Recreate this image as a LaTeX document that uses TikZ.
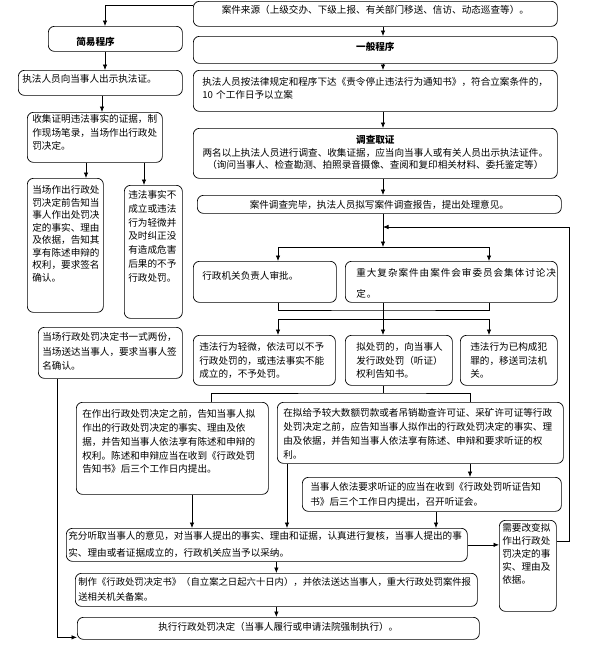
\documentclass[tikz,border=0pt]{standalone}
\usepackage{fontspec}
\setmainfont{Noto Sans CJK SC}
\usepackage{tikz}
\usetikzlibrary{arrows.meta}

\begin{document}
\begin{tikzpicture}[x=1pt,y=-1pt,
	box/.style={draw,line width=0.7pt,rounded corners=6pt,anchor=north west,inner ysep=0pt,inner xsep=4pt,align=left,font=\fontsize{9.6pt}{#1}\selectfont},
	box/.default=13.6pt,
	title/.style={box,align=center,font=\fontsize{9.6pt}{13pt}\selectfont\bfseries},
	link/.style={line width=0.7pt},
	arr/.style={line width=0.7pt,-{Latex[length=5.5pt,width=4.5pt]}}]
\useasboundingbox (0,0) rectangle (594,648);
	% lanes of the connectors
	\coordinate (lane0) at (57,0);
	\coordinate (lane1) at (105,0);
	\coordinate (lane2) at (102,0);
	\coordinate (lane3) at (86,0);
	\coordinate (lane4) at (144,0);
	\coordinate (spine) at (383,0);
	\coordinate (colA) at (278,0);
	\coordinate (colC) at (489,0);
	\coordinate (lane5) at (211,0);
	\coordinate (lane6) at (470,0);
	\coordinate (lane7) at (192,0);
	\coordinate (lane8) at (287,0);
	\coordinate (lane9) at (436,0);
	\coordinate (fork1) at (383,247);
	\coordinate (join1) at (383,310);
	\coordinate (fork2) at (383,319);
	\coordinate (fork3) at (383,393);
	\coordinate (loop) at (569,227);
	% top
	\node[box,align=center,text width=356pt,text height=12.5pt,text depth=12.5pt] (src) at (193,1) {案件来源（上级交办、下级上报、有关部门移送、信访、动态巡查等）。};
	% simple procedure
	\node[title,align=left,inner xsep=28pt,text width=78pt,text height=19pt,text depth=6pt] (simple) at (48,26) {简易程序};
	\node[box,text width=156pt,text height=12.5pt,text depth=12.5pt] (showid) at (18,70) {执法人员向当事人出示执法证。};
	\node[box=13.5pt,inner xsep=5pt,text width=125pt,text height=10.5pt,text depth=39.5pt] (collect) at (27,112) {收集证明违法事实的证据，制\\作现场笔录，当场作出行政处\\罚决定。};
	\node[box=12.5pt,inner xsep=5pt,text width=66pt,text height=15.5pt,text depth=118.5pt] (inform) at (27,178) {当场作出行政处\\罚决定前告知当\\事人作出处罚决\\定的事实、理由\\及依据，告知其\\享有陈述申辩的\\权利，要求签名\\确认。};
	\node[box=13.7pt,text width=50pt,text height=13.5pt,text depth=119.5pt] (noact) at (124,185) {违法事实不\\成立或违法\\行为轻微并\\及时纠正没\\有造成危害\\后果的不予\\行政处罚。};
	\node[box=14.5pt,text width=136pt,text height=13.5pt,text depth=37.5pt] (onsite) at (38,327) {当场行政处罚决定书一式两份，\\当场送达当事人，要求当事人签\\名确认。};
	% general procedure
	\node[title,text width=356pt,text height=14.5pt,text depth=12.5pt] (general) at (193,36) {一般程序};
	\node[box=13pt,inner xsep=9pt,text width=346pt,text height=15.5pt,text depth=25.5pt] (notice) at (193,70) {执法人员按法律规定和程序下达《责令停止违法行为通知书》，符合立案条件的，\\10 个工作日予以立案};
	\node[box=12.5pt,align=center,text width=356pt,text height=15.5pt,text depth=34.5pt] (survey) at (193,128) {{\bfseries 调查取证}\\两名以上执法人员进行调查、收集证据，应当向当事人或有关人员出示执法证件。\\（询问当事人、检查勘测、拍照录音摄像、查阅和复印相关材料、委托鉴定等）};
	\node[box,align=center,text width=356pt,text height=13pt,text depth=5pt] (finish) at (197,195) {案件调查完毕，执法人员拟写案件调查报告，提出处理意见。};
	\node[box,inner xsep=9pt,text width=125pt,text height=18.5pt,text depth=22.5pt] (approve) at (193,261) {行政机关负责人审批。};
	\node[box,inner xsep=11pt,text width=190pt,text height=15.5pt,text depth=25.5pt,font=\fontsize{9.6pt}{21pt}\selectfont\addfontfeatures{LetterSpace=10}] (major) at (345,261) {重大复杂案件由案件会审委员会集体讨论决\\定。};
	\node[box=13.5pt,inner xsep=6pt,text width=130pt,text height=15.5pt,text depth=34.5pt] (minor) at (193,335) {违法行为轻微，依法可以不予\\行政处罚的，或违法事实不能\\成立的，不予处罚。};
	\node[box=13.5pt,inner xsep=11pt,text width=85pt,text height=15.5pt,text depth=34.5pt] (punish) at (345,335) {拟处罚的，向当事人\\发行政处罚（听证）\\权利告知书。};
	\node[box=13.5pt,inner xsep=10pt,text width=77pt,text height=15.5pt,text depth=34.5pt] (crime) at (460,335) {违法行为已构成犯\\罪的，移送司法机\\关。};
	\node[box=13.75pt,inner xsep=6pt,text width=180pt,text height=15.5pt,text depth=76.5pt] (state) at (76,402) {在作出行政处罚决定之前，告知当事人拟\\作出的行政处罚决定的事实、理由及依\\据，并告知当事人依法享有陈述和申辩的\\权利。陈述和申辩应当在收到《行政处罚\\告知书》后三个工作日内提出。};
	\node[box=14pt,inner xsep=6pt,text width=274pt,text height=14.5pt,text depth=46.5pt] (hearing) at (277,402) {在拟给予较大数额罚款或者吊销勘查许可证、采矿许可证等行政\\处罚决定之前，应告知当事人拟作出的行政处罚决定的事实、理\\由及依据，并告知当事人依法享有陈述、申辩和要求听证的权\\利。};
	\node[box=15pt,inner xsep=8pt,text width=243pt,text height=13.5pt,text depth=20.5pt] (request) at (302,477) {当事人依法要求听证的应当在收到《行政处罚听证告知\\书》后三个工作日内提出，召开听证会。};
	\node[box=16.5pt,inner xsep=2pt,text width=397pt,text height=11.5pt,text depth=21.5pt] (review) at (66,528) {充分听取当事人的意见，对当事人提出的事实、理由和证据，认真进行复核，当事人提出的事\\实、理由或者证据成立的，行政机关应当予以采纳。};
	\node[box,inner xsep=3pt,text width=51pt,text height=11.5pt,text depth=79.5pt,font=\fontsize{9.6pt}{13pt}\selectfont] (change) at (499,520) {需要改变拟\\作出行政处\\罚决定的事\\实、理由及\\依据。};
	\node[box,inner xsep=3pt,text width=396pt,text height=12.5pt,text depth=20.5pt,font=\fontsize{9.35pt}{15pt}\selectfont] (decide) at (75,573) {制作《行政处罚决定书》（自立案之日起六十日内），并依法送达当事人，重大行政处罚案件报\\送相关机关备案。};
	\node[box,align=center,text width=394pt,text height=13pt,text depth=9pt] (execute) at (77,617) {执行行政处罚决定（当事人履行或申请法院强制执行）。};
	% simple procedure connectors
	\draw[arr] ([yshift=-4pt]src.north west)-|(simple.north -| lane1);
	\draw[arr] (simple.south -| lane1)--(showid.north -| lane1);
	\draw[arr] (showid.south -| lane2)--(collect.north -| lane2);
	\draw[arr] (collect.south -| lane3)--(inform.north -| lane3);
	\draw[arr] (collect.south -| lane4)--(noact.north -| lane4);
	\draw[arr] (onsite.south -| lane0)|-([yshift=-9pt]execute.west);
	% general procedure connectors
	\draw[arr] (src.south -| spine)--(general.north -| spine);
	\draw[arr] (general.south -| spine)--(notice.north -| spine);
	\draw[arr] (notice.south -| spine)--(survey.north -| spine);
	\draw[arr] (survey.south -| spine)--(finish.north -| spine);
	\draw[arr] (finish.south -| spine)--(fork1);
	\draw[link] (fork1 -| colA)--(fork1 -| colC);
	\draw[arr] (fork1 -| colA)--(approve.north -| colA);
	\draw[arr] (fork1 -| colC)--(major.north -| colC);
	\draw[link] (approve.south -| colA)|-(join1)-|(major.south -| colC);
	\draw[arr] (major.south -| spine)--(punish.north -| spine);
	\draw[link] (fork2 -| colA)--(fork2 -| colC);
	\draw[arr] (fork2 -| colA)--(minor.north -| colA);
	\draw[arr] (fork2 -| colC)--(crime.north -| colC);
	\draw[link] (punish.south -| spine)--(fork3);
	\draw[link] (state.north -| lane5)|-(fork3)-|(hearing.north -| lane6);
	\draw[arr] (state.south -| lane7)--(review.north -| lane7);
	\draw[arr] (hearing.south -| lane8)--(review.north -| lane8);
	\draw[arr] (hearing.south -| lane6)--(request.north -| lane6);
	\draw[arr] (request.south -| lane9)--(review.north -| lane9);
	\draw[arr] (review.east)--(review.east -| change.west);
	\draw[arr] ([yshift=25pt]change.east)-|(loop)--(loop -| spine);
	\draw[arr] (review.south -| decide.north)--(decide.north);
	\draw[arr] (decide.south)--(decide.south |- execute.north);
\end{tikzpicture}
\end{document}
